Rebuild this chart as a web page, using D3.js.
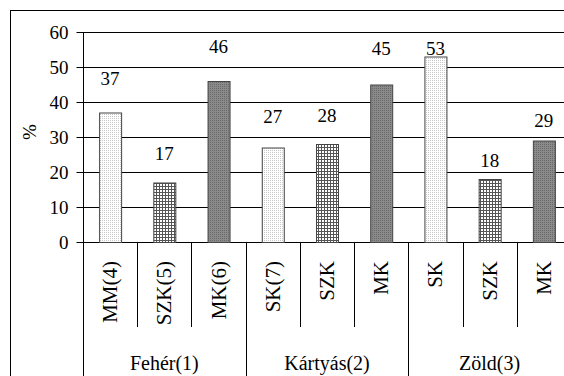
<!DOCTYPE html>
<html>
<head>
<meta charset="utf-8">
<script src="https://cdn.jsdelivr.net/npm/d3@7"></script>
<style>
  body { margin: 0; background: #fff; }
</style>
</head>
<body>
<svg id="chart" width="564" height="376" font-family="'Liberation Serif', 'DejaVu Serif', serif"></svg>
<script>
// Survey shares (%) by card type and sub-category
const groups = ["Fehér(1)", "Kártyás(2)", "Zöld(3)"];
const categories = ["MM(4)", "SZK(5)", "MK(6)", "SK(7)", "SZK", "MK", "SK", "SZK", "MK"];
const groupIndex = [0, 0, 0, 1, 1, 1, 2, 2, 2];
const fillKind = ["light", "hatch", "dark", "light", "hatch", "dark", "light", "hatch", "dark"];
const values = [37, 17, 46, 27, 28, 45, 53, 18, 29];
const yTicks = [0, 10, 20, 30, 40, 50, 60];

// Layout
const W = 564, H = 376;
const plotLeft = 83, plotTop = 32, plotBottom = 242;
const step = 54.22;
const barWidth = 22;
const FONT = "Liberation Serif";
// Vertical gap (px) between bar top and its value label baseline
const labelLift = [27.5, 22.5, 28, 24.5, 22, 29.5, 1.5, 12, 13.5];

const svg = d3.select("#chart");

// Fill patterns
const defs = svg.append("defs");
const light = defs.append("pattern").attr("id", "light")
  .attr("width", 2).attr("height", 2).attr("patternUnits", "userSpaceOnUse");
light.append("rect").attr("width", 2).attr("height", 2).attr("fill", "#fff");
light.append("rect").attr("width", 1).attr("height", 1).attr("fill", "#c8c8c8");

const hatch = defs.append("pattern").attr("id", "hatch")
  .attr("width", 3).attr("height", 3).attr("patternUnits", "userSpaceOnUse");
hatch.append("rect").attr("width", 3).attr("height", 3).attr("fill", "#fff");
hatch.append("rect").attr("width", 3).attr("height", 1).attr("fill", "#555");
hatch.append("rect").attr("width", 1).attr("height", 3).attr("fill", "#555");

const dark = defs.append("pattern").attr("id", "dark")
  .attr("width", 2).attr("height", 2).attr("patternUnits", "userSpaceOnUse");
dark.append("rect").attr("width", 2).attr("height", 2).attr("fill", "#8a8a8a");
dark.append("rect").attr("width", 1).attr("height", 1).attr("fill", "#6a6a6a");

// Outer frame (runs past the right and bottom edges)
svg.append("rect")
  .attr("x", 10.5).attr("y", 10.5)
  .attr("width", W + 20).attr("height", H + 20)
  .attr("fill", "none").attr("stroke", "#000");

// Scales
const x = d3.scaleBand()
  .domain(d3.range(categories.length))
  .range([plotLeft, plotLeft + step * categories.length])
  .paddingInner(1 - barWidth / step)
  .paddingOuter((1 - barWidth / step) / 2);

const y = d3.scaleLinear().domain([0, 60]).range([plotBottom, plotTop]);

// Gridlines
svg.append("g").selectAll("line").data(yTicks).join("line")
  .attr("x1", plotLeft).attr("x2", plotLeft + step * categories.length)
  .attr("y1", d => Math.round(y(d)) + 0.5).attr("y2", d => Math.round(y(d)) + 0.5)
  .attr("stroke", "#000");

// Y axis
const yAxis = svg.append("g")
  .attr("transform", `translate(${plotLeft + 0.5},0)`)
  .call(d3.axisLeft(y).tickValues(yTicks).tickSize(7).tickPadding(8));
yAxis.attr("font-family", FONT).attr("font-size", 19);
yAxis.select(".domain").remove();
yAxis.selectAll(".tick line").attr("stroke", "#000");
yAxis.selectAll(".tick text").attr("fill", "#000");

// Axis line continues down through the category labels
svg.append("line")
  .attr("x1", plotLeft + 0.5).attr("x2", plotLeft + 0.5)
  .attr("y1", plotTop).attr("y2", H)
  .attr("stroke", "#000");

// Y label
svg.append("text")
  .attr("transform", `translate(29,132) rotate(-90)`)
  .attr("text-anchor", "middle").attr("dominant-baseline", "central")
  .attr("font-family", FONT).attr("font-size", 19).text("%");

// Bars
svg.append("g").selectAll("rect").data(values).join("rect")
  .attr("x", (d, i) => x(i) + 0.5)
  .attr("y", d => y(d) + 0.5)
  .attr("width", x.bandwidth())
  .attr("height", d => plotBottom - y(d))
  .attr("fill", (d, i) => `url(#${fillKind[i]})`)
  .attr("stroke", "#444");

// Value labels
svg.append("g").selectAll("text").data(values).join("text")
  .attr("x", (d, i) => x(i) + x.bandwidth() / 2)
  .attr("y", (d, i) => y(d) - labelLift[i])
  .attr("text-anchor", "middle")
  .attr("font-family", FONT).attr("font-size", 19)
  .text(d => d);

// Category separators
const boundaries = d3.range(1, categories.length);
svg.append("g").selectAll("line").data(boundaries).join("line")
  .attr("x1", i => Math.round(plotLeft + i * step) + 0.5)
  .attr("x2", i => Math.round(plotLeft + i * step) + 0.5)
  .attr("y1", plotBottom)
  .attr("y2", i => (i % 3 === 0 ? H : 327))
  .attr("stroke", "#000");

// Rotated category labels
svg.append("g").selectAll("text").data(categories).join("text")
  .attr("transform", (d, i) => `translate(${x(i) + x.bandwidth() / 2},261) rotate(-90)`)
  .attr("text-anchor", "end").attr("dominant-baseline", "central")
  .attr("font-family", FONT).attr("font-size", 21)
  .text(d => d);

// Group labels
svg.append("g").selectAll("text").data(groups).join("text")
  .attr("x", (d, g) => plotLeft + step * (g * 3 + 1.5))
  .attr("y", 370)
  .attr("text-anchor", "middle")
  .attr("font-family", FONT).attr("font-size", 20)
  .text(d => d);
</script>
</body>
</html>
